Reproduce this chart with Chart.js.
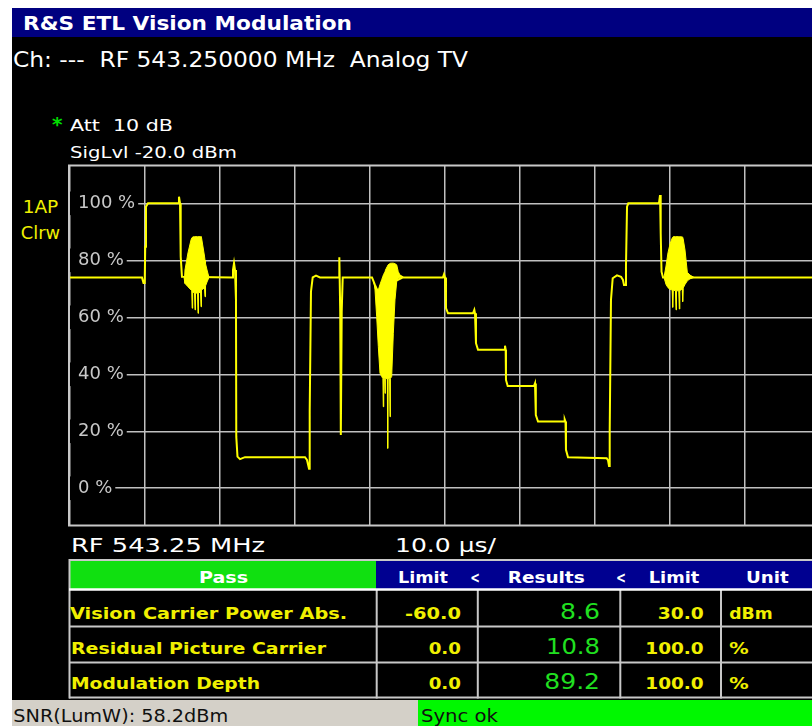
<!DOCTYPE html>
<html>
<head>
<meta charset="utf-8">
<script src="https://cdn.jsdelivr.net/npm/chart.js@4/dist/chart.umd.min.js"></script>
<style>
  html, body { margin: 0; padding: 0; background: #fff; overflow: hidden; width: 812px; height: 726px; }
  #panel { position: absolute; left: 0; top: 0; }
  #scope { position: absolute; left: 0; top: 0; }
  svg text { font-family: "DejaVu Sans", sans-serif; white-space: pre; }
</style>
</head>
<body>
<svg id="panel" width="812" height="726" xmlns="http://www.w3.org/2000/svg">
  <rect x="0" y="0" width="812" height="726" fill="#ffffff"/>
  <rect x="12" y="8" width="800" height="718" fill="#000000"/>
  <!-- title bar -->
  <rect x="12" y="8" width="800" height="29" fill="#000080"/>
  <text x="23" y="30" font-size="19" font-weight="bold" fill="#ffffff" textLength="329" lengthAdjust="spacingAndGlyphs">R&amp;S ETL Vision Modulation</text>
  <text x="13" y="66.5" font-size="21" fill="#ffffff" textLength="455" lengthAdjust="spacingAndGlyphs">Ch: ---  RF 543.250000 MHz  Analog TV</text>
  <!-- instrument settings -->
  <text x="52" y="131" font-size="20" font-weight="bold" fill="#00e000">*</text>
  <text x="70" y="130.7" font-size="15" fill="#ffffff" textLength="103" lengthAdjust="spacingAndGlyphs">Att  10 dB</text>
  <text x="70" y="157.5" font-size="15" fill="#ffffff" textLength="167" lengthAdjust="spacingAndGlyphs">SigLvl -20.0 dBm</text>
  <!-- trace label -->
  <text x="40.5" y="213.3" font-size="18" fill="#f0f000" text-anchor="middle" textLength="35.6" lengthAdjust="spacingAndGlyphs">1AP</text>
  <text x="40.4" y="239" font-size="18" fill="#f0f000" text-anchor="middle" textLength="39.3" lengthAdjust="spacingAndGlyphs">Clrw</text>
  <!-- sweep info -->
  <text x="71" y="551.7" font-size="19" fill="#ffffff" textLength="194" lengthAdjust="spacingAndGlyphs">RF 543.25 MHz</text>
  <text x="395" y="551.7" font-size="19" fill="#ffffff" textLength="101" lengthAdjust="spacingAndGlyphs">10.0 µs/</text>
  <!-- result table -->
  <rect x="70" y="561" width="306" height="28" fill="#10e010"/>
  <rect x="376" y="561" width="436" height="28" fill="#000090"/>
  <g stroke="#c8c8c8" stroke-width="2" fill="none">
    <line x1="69" y1="560" x2="812" y2="560"/>
    <line x1="69" y1="626.5" x2="812" y2="626.5"/>
    <line x1="69" y1="662.5" x2="812" y2="662.5"/>
    <line x1="69" y1="697.5" x2="812" y2="697.5"/>
    <line x1="69.5" y1="559" x2="69.5" y2="698.5"/>
    <line x1="376.7" y1="589" x2="376.7" y2="698.5"/>
    <line x1="477.8" y1="589" x2="477.8" y2="698.5"/>
    <line x1="620.3" y1="589" x2="620.3" y2="698.5"/>
    <line x1="721" y1="589" x2="721" y2="698.5"/>
  </g>
  <line x1="69" y1="589.5" x2="812" y2="589.5" stroke="#ffffff" stroke-width="2.4"/>
  <g font-size="16" font-weight="bold" fill="#ffffff">
    <text x="223.5" y="583.3" text-anchor="middle" textLength="49" lengthAdjust="spacingAndGlyphs">Pass</text>
    <text x="398" y="583.3" textLength="50" lengthAdjust="spacingAndGlyphs">Limit</text>
    <text x="470.3" y="583.3" textLength="9.7" lengthAdjust="spacingAndGlyphs">&lt;</text>
    <text x="507.7" y="583.3" textLength="77" lengthAdjust="spacingAndGlyphs">Results</text>
    <text x="616" y="583.3" textLength="10" lengthAdjust="spacingAndGlyphs">&lt;</text>
    <text x="648.7" y="583.3" textLength="50.6" lengthAdjust="spacingAndGlyphs">Limit</text>
    <text x="746" y="583.3" textLength="42.7" lengthAdjust="spacingAndGlyphs">Unit</text>
  </g>
  <g font-size="16" font-weight="bold" fill="#f0f000">
    <text x="70" y="619.3" textLength="277" lengthAdjust="spacingAndGlyphs">Vision Carrier Power Abs.</text>
    <text x="71" y="653.5" textLength="255" lengthAdjust="spacingAndGlyphs">Residual Picture Carrier</text>
    <text x="71" y="688.7" textLength="189" lengthAdjust="spacingAndGlyphs">Modulation Depth</text>
    <text x="461" y="619" text-anchor="end" textLength="56" lengthAdjust="spacingAndGlyphs">-60.0</text>
    <text x="461" y="653.5" text-anchor="end" textLength="32.3" lengthAdjust="spacingAndGlyphs">0.0</text>
    <text x="461" y="688.7" text-anchor="end" textLength="32.3" lengthAdjust="spacingAndGlyphs">0.0</text>
    <text x="703.7" y="619" text-anchor="end" textLength="46" lengthAdjust="spacingAndGlyphs">30.0</text>
    <text x="703.7" y="653.5" text-anchor="end" textLength="58.4" lengthAdjust="spacingAndGlyphs">100.0</text>
    <text x="703.7" y="688.7" text-anchor="end" textLength="58.4" lengthAdjust="spacingAndGlyphs">100.0</text>
    <text x="729.3" y="619" textLength="43.4" lengthAdjust="spacingAndGlyphs">dBm</text>
    <text x="729.3" y="653.5" textLength="19.4" lengthAdjust="spacingAndGlyphs">%</text>
    <text x="729.3" y="688.7" textLength="19.4" lengthAdjust="spacingAndGlyphs">%</text>
  </g>
  <g font-size="22" fill="#20e020">
    <text x="600" y="619" text-anchor="end" textLength="40" lengthAdjust="spacingAndGlyphs">8.6</text>
    <text x="600" y="653.5" text-anchor="end" textLength="54" lengthAdjust="spacingAndGlyphs">10.8</text>
    <text x="600" y="688.5" text-anchor="end" textLength="55.7" lengthAdjust="spacingAndGlyphs">89.2</text>
  </g>
  <!-- status line -->
  <rect x="12" y="700" width="406" height="26" fill="#d4d0c8"/>
  <rect x="418" y="700" width="394" height="26" fill="#00f800"/>
  <text x="13.3" y="721.5" font-size="18" fill="#101010" textLength="215" lengthAdjust="spacingAndGlyphs">SNR(LumW): 58.2dBm</text>
  <text x="421" y="721.5" font-size="18" fill="#101010" textLength="77" lengthAdjust="spacingAndGlyphs">Sync ok</text>
</svg>
<canvas id="scope" width="830" height="726"></canvas>
<script>
// Video line trace: time in µs (10 µs/div), level in % of modulation
const traceTime = [0, 9.6, 9.8, 9.96, 10.03, 10.13, 10.4, 14.4, 14.53, 14.67, 14.76, 14.93,
  21.6, 21.73, 21.87, 22.0, 22.13, 22.17, 22.33, 22.67, 23.33, 31.33, 31.6, 31.87, 31.96,
  32.13, 32.36, 32.8, 33.33, 35.87, 35.91, 36.03, 36.11, 36.23, 36.36, 40.27, 40.67, 41.07,
  43.6, 44.4, 49.73, 49.87, 50.0, 50.13, 50.4, 53.73, 53.91, 54.0, 54.13, 54.4, 57.87, 58.0,
  58.09, 58.13, 58.36, 61.87, 62.0, 62.09, 62.13, 62.4, 65.87, 65.96, 66.07, 66.13, 66.4,
  71.56, 71.73, 71.87, 71.96, 72.13, 72.36, 72.93, 73.47, 73.73, 73.87, 74.09, 74.13, 74.27,
  74.44, 78.53, 78.67, 78.76, 78.87, 79.07, 100];
const traceLevel = [74.0, 74.0, 72.0, 72.0, 84.8, 98.8, 100.0, 100.0, 102.3, 100.0, 81.3, 74.2,
  74.0, 76.6, 79.0, 76.6, 66.1, 18.1, 11.1, 10.2, 10.9, 10.9, 9.9, 6.8, 26.9,
  69.0, 74.0, 74.6, 74.0, 74.0, 81.1, 62.0, 18.7, 62.0, 74.0, 74.0, 71.3, 69.0,
  73.0, 74.0, 74.0, 75.1, 74.0, 63.2, 61.4, 61.4, 62.6, 61.4, 50.9, 48.6, 48.6, 50.0,
  48.6, 38.0, 35.9, 35.9, 36.8, 35.9, 25.7, 23.4, 23.4, 24.2, 23.4, 13.5, 10.9,
  10.5, 9.9, 7.8, 19.9, 66.1, 73.7, 74.7, 74.2, 73.1, 71.3, 71.3, 77.8, 98.8,
  100.0, 100.0, 102.9, 89.6, 76.0, 74.0, 74.0];

// Colour burst after the first sync pulse (upper / lower envelope)
const burst1Time = [15.2, 15.33, 15.73, 16.13, 16.23, 16.29, 16.36, 16.6, 16.67, 16.73, 17.0,
  17.07, 17.13, 17.4, 17.47, 17.53, 17.93, 18.0, 18.07, 18.27, 18.53];
const burst1High = [74.0, 76.6, 82.6, 87.1, 87.8, 88.0, 88.2, 88.3, 88.3, 88.3, 88.3,
  88.3, 88.3, 88.3, 88.3, 88.0, 81.5, 80.0, 78.8, 76.6, 74.0];
const burst1Low = [74.0, 71.9, 70.7, 69.6, 69.6, 63.2, 68.9, 68.5, 62.6, 68.5, 68.5,
  61.4, 68.5, 68.9, 63.7, 69.6, 70.3, 67.2, 71.0, 72.4, 74.0];

// Chroma packet in the middle of the line
const burst2Time = [40.53, 40.67, 40.89, 41.11, 41.33, 41.56, 41.72, 41.77, 41.83, 41.95, 42.0,
  42.05, 42.31, 42.36, 42.41, 42.61, 42.67, 42.72, 42.89, 43.11, 43.33, 43.56, 43.77, 44.0, 44.44];
const burst2High = [72.1, 71.3, 69.9, 69.6, 71.5, 73.2, 74.4, 74.8, 75.1, 75.8, 76.1,
  76.5, 77.9, 78.2, 78.4, 78.8, 78.9, 79.0, 79.0, 79.0, 78.8, 78.4, 76.0, 74.8, 74.2];
const burst2Low = [72.1, 69.6, 60.2, 49.7, 40.4, 39.2, 38.5, 28.6, 38.5, 38.5, 33.3,
  38.5, 38.5, 14.0, 38.5, 38.5, 25.1, 38.5, 39.2, 54.4, 66.1, 72.5, 73.7, 74.0, 74.0];

// Colour burst of the following line
const burst3Time = [79.2, 79.47, 79.73, 80.0, 80.29, 80.36, 80.43, 80.73, 80.8, 80.87, 81.17,
  81.24, 81.31, 81.63, 81.69, 81.76, 82.0, 82.31, 82.67, 83.2];
const burst3High = [74.0, 78.0, 82.6, 85.7, 87.8, 88.1, 88.3, 88.3, 88.3, 88.3, 88.3,
  88.3, 88.3, 88.2, 88.1, 87.5, 83.6, 75.8, 74.8, 74.0];
const burst3Low = [74.0, 71.5, 70.4, 69.8, 69.6, 63.5, 69.6, 69.3, 62.6, 69.3, 69.3,
  62.9, 69.3, 70.0, 65.5, 70.3, 71.5, 72.8, 73.5, 74.0];

// Axes: 10 divisions of 10 µs, level grid every 20 %
const xGridValues = [0, 10, 20, 30, 40, 50, 60, 70, 80, 90, 100];
const yTickValues = [0, 20, 40, 60, 80, 100];
const timeRange = [0, 100];
const levelRange = [-12.9, 113.1];

const TRACE = '#ffff00';
const GRID = '#c0c0c0';

const pts = (t, v) => t.map((x, i) => ({ x: x, y: v[i] }));

function envelope(t, hi, lo) {
  return [
    { data: pts(t, hi), borderColor: TRACE, borderWidth: 1, fill: false },
    { data: pts(t, lo), borderColor: TRACE, borderWidth: 1, fill: '-1', backgroundColor: TRACE }
  ];
}

// Frame round the graticule
const frame = {
  id: 'frame',
  beforeDatasetsDraw(chart) {
    const { ctx, chartArea: a } = chart;
    ctx.save();
    ctx.strokeStyle = '#c8c8c8';
    ctx.lineWidth = 2;
    ctx.strokeRect(a.left - 1, a.top - 0.5, a.right - a.left + 2, a.bottom - a.top + 1);
    ctx.restore();
  }
};

new Chart(document.getElementById('scope'), {
  type: 'line',
  data: {
    datasets: [
      { data: pts(traceTime, traceLevel), borderColor: TRACE, borderWidth: 2, fill: false },
      ...envelope(burst1Time, burst1High, burst1Low),
      ...envelope(burst2Time, burst2High, burst2Low),
      ...envelope(burst3Time, burst3High, burst3Low)
    ]
  },
  options: {
    responsive: false,
    animation: false,
    events: [],
    layout: { padding: { left: 70, top: 166, right: 10, bottom: 201 } },
    elements: { point: { radius: 0 }, line: { tension: 0 } },
    plugins: { legend: { display: false }, tooltip: { enabled: false } },
    scales: {
      x: {
        type: 'linear',
        min: timeRange[0],
        max: timeRange[1],
        afterBuildTicks: s => { s.ticks = xGridValues.map(v => ({ value: v })); },
        afterFit: s => { s.height = 0; },
        border: { display: false },
        grid: { color: GRID, lineWidth: 1.5, drawTicks: false },
        ticks: { display: false }
      },
      y: {
        type: 'linear',
        min: levelRange[0],
        max: levelRange[1],
        afterBuildTicks: s => { s.ticks = yTickValues.map(v => ({ value: v })); },
        afterFit: s => { s.width = 0; },
        border: { display: false },
        grid: { color: GRID, lineWidth: 1.5, drawTicks: false },
        ticks: {
          mirror: true,
          padding: 8,
          color: '#c8c8c8',
          font: { family: 'DejaVu Sans', size: 18 },
          callback: v => v + ' %',
          showLabelBackdrop: true,
          backdropColor: '#000000',
          backdropPadding: { left: 8, right: 3, top: 1, bottom: 1 }
        }
      }
    }
  },
  plugins: [frame]
});
</script>
</body>
</html>
